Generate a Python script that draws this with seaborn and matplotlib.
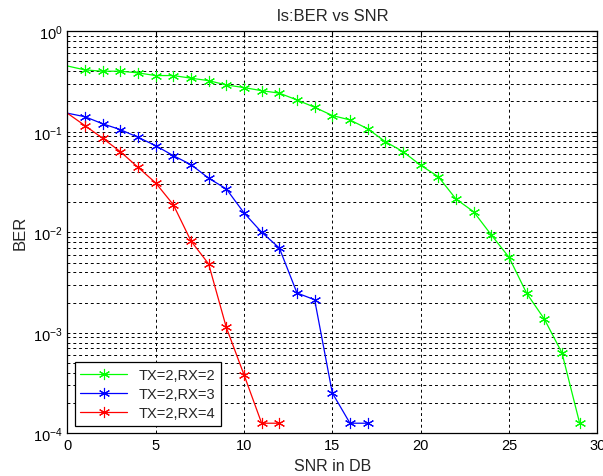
import numpy as np
import pandas as pd
import matplotlib
matplotlib.use('Agg')
import matplotlib.pyplot as plt
import seaborn as sns

# data
snr_22 = list(range(0, 30))
ber_22 = [0.451, 0.412, 0.400, 0.400, 0.385, 0.362, 0.362, 0.341, 0.322, 0.292,
          0.275, 0.256, 0.242, 0.207, 0.175, 0.145, 0.131, 0.107, 0.0797, 0.0634,
          0.0464, 0.0357, 0.0214, 0.0160, 0.0094, 0.00564, 0.00247, 0.00137, 0.00063, 0.000126]

snr_23 = list(range(0, 18))
ber_23 = [0.153, 0.141, 0.120, 0.105, 0.0881, 0.0727, 0.0578, 0.0471, 0.0345, 0.0270,
          0.0156, 0.0100, 0.00698, 0.00249, 0.00213, 0.000252, 0.000126, 0.000126]

snr_24 = list(range(0, 13))
ber_24 = [0.153, 0.115, 0.0861, 0.0634, 0.0443, 0.0310, 0.0188, 0.00819, 0.00484,
          0.00113, 0.000383, 0.000126, 0.000126]

labels = ['TX=2,RX=2', 'TX=2,RX=3', 'TX=2,RX=4']
colors = ['#00ff00', '#0000ff', '#ff0000']

df = pd.concat([
    pd.DataFrame({'SNR': snr_22, 'BER': ber_22, 'cfg': labels[0]}),
    pd.DataFrame({'SNR': snr_23, 'BER': ber_23, 'cfg': labels[1]}),
    pd.DataFrame({'SNR': snr_24, 'BER': ber_24, 'cfg': labels[2]}),
], ignore_index=True)

sns.set_style('white')
plt.rcParams['font.family'] = ['Liberation Sans', 'DejaVu Sans']
plt.rcParams['mathtext.fontset'] = 'custom'
plt.rcParams['mathtext.rm'] = 'Liberation Sans'

fig = plt.figure(figsize=(6.03, 4.77), dpi=100)
ax = fig.add_axes([0.1116, 0.0895, 0.879, 0.843])
ax.set_yscale('log')

asterisk = (6, 2, 0)
for lab, col in zip(labels, colors):
    sub = df[df['cfg'] == lab]
    sns.lineplot(data=sub, x='SNR', y='BER', color=col, label=lab, ax=ax,
                 marker=asterisk, markersize=8, markeredgewidth=0.8,
                 markeredgecolor=col, linewidth=0.9, estimator=None,
                 markevery=slice(1, None))

ax.set_xlim(0, 30)
ax.set_ylim(1e-4, 1)
ax.set_xticks([0, 5, 10, 15, 20, 25, 30])

ax.grid(True, which='major', axis='both', color='black', linestyle=(0, (3, 3)), linewidth=0.7)
ax.grid(True, which='minor', axis='y', color='black', linestyle=(0, (3, 3)), linewidth=0.7)

for s in ax.spines.values():
    s.set_color('black')
    s.set_linewidth(0.9)
ax.tick_params(which='both', direction='in', top=True, right=True, labelsize=10.5, colors='black')
ax.tick_params(which='major', length=4)
ax.tick_params(which='minor', length=2)

ax.set_title('ls:BER vs SNR', fontsize=12, pad=8)
ax.set_xlabel('SNR in DB', fontsize=11.5, labelpad=4)
ax.set_ylabel('BER', fontsize=12, labelpad=4)

leg = ax.legend(loc='lower left', fontsize=10.5, frameon=True, fancybox=False,
                edgecolor='black', framealpha=1, handlelength=3.2,
                borderaxespad=0.5, labelspacing=0.35)
leg.get_frame().set_linewidth(0.9)

fig.savefig('out.png', dpi=100)
